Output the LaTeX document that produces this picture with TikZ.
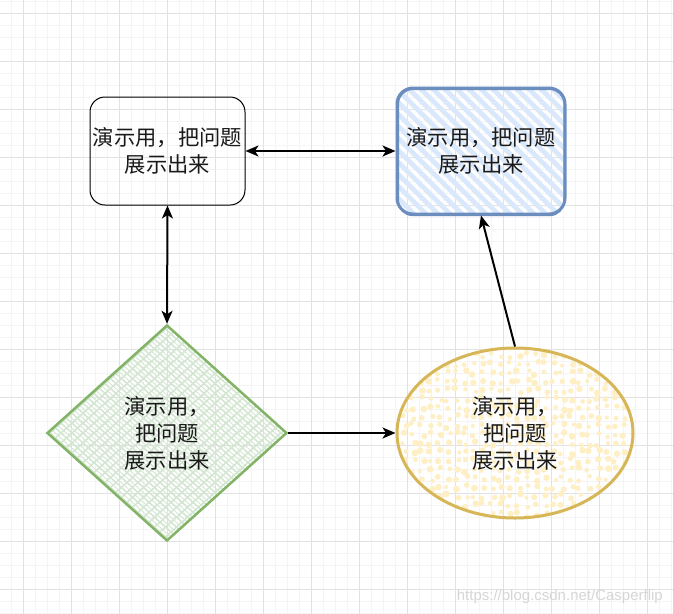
\documentclass[tikz,border=0pt]{standalone}
\usepackage{fontspec}
\setmainfont{Noto Sans CJK SC}
\newfontfamily\wmfont{Liberation Sans}
\usetikzlibrary{arrows.meta,shapes.geometric}
\definecolor{gridminor}{HTML}{F4F4F4}
\definecolor{gridmajor}{HTML}{E2E2E2}
\definecolor{bluestroke}{HTML}{6C8EBF}
\definecolor{bluefill}{HTML}{DAE8FC}
\definecolor{greenstroke}{HTML}{82B366}
\definecolor{greenfill}{HTML}{D2E6D0}
\definecolor{yellowstroke}{HTML}{D6B656}
\definecolor{yellowfill}{HTML}{FFEFC4}
\definecolor{txt}{HTML}{1A1A1A}
\begin{document}
\begin{tikzpicture}[x=1pt,y=-1pt,
  lbl/.style={font=\fontsize{21.3}{27}\selectfont, align=center, text=txt, inner sep=0pt},
  conn/.style={line width=2pt, -{Stealth[length=13pt,width=11pt,inset=3.5pt]}},
  biconn/.style={line width=2pt, {Stealth[length=13pt,width=11pt,inset=3.5pt]}-{Stealth[length=13pt,width=11pt,inset=3.5pt]}},
  minorline/.style={gridminor, line width=1pt},
  majorline/.style={gridmajor, line width=1pt},
]
\useasboundingbox (0,0) rectangle (673,614);
\fill[white] (0,0) rectangle (673,614);
% grid
\foreach \x in {11.5,23.5,...,673} \draw[minorline] (\x,0) -- (\x,614);
\foreach \y in {1.5,13.5,...,614} \draw[minorline] (0,\y) -- (673,\y);
\foreach \x in {23.5,71.5,...,673} \draw[majorline] (\x,0) -- (\x,614);
\foreach \y in {13.5,61.5,...,614} \draw[majorline] (0,\y) -- (673,\y);
% blue hatch
\begin{scope}
\clip[rounded corners=16pt] (397,88) rectangle (565,214);
\foreach \s in {200,212,...,580} \draw[bluefill, line width=4.8pt] (\s,60) -- ++(200,200);
\end{scope}
% green cross hatch
\begin{scope}
\clip (167,325) -- (287,433) -- (167,541) -- (47,433) -- cycle;
\foreach \x in {-60,-49,...,400} {
  \draw[greenfill, line width=1.5pt] (\x-150,433-135) -- (\x+150,433+135);
  \draw[greenfill, line width=1.5pt] (\x-150,433+135) -- (\x+150,433-135);
  \draw[greenfill, line width=0.8pt] (\x-147,433-137) -- (\x+153,433+133);
}
\end{scope}
% yellow dots
\begin{scope}
\clip (515,433) ellipse[x radius=118, y radius=85];
\pgfmathsetseed{42}
\foreach \i in {0,...,27} \foreach \j in {0,...,20} {
  \pgfmathsetmacro\px{393+\i*8.8+rnd*5}
  \pgfmathsetmacro\py{344+\j*8.8+rnd*5}
  \pgfmathsetmacro\rr{2.0+rnd*1.4}
  \fill[yellowfill] (\px,\py) circle[radius=\rr];
}
\end{scope}
% nodes
\node[draw=black, line width=1pt, rounded corners=15pt, minimum width=155pt, minimum height=108pt, lbl] (a) at (167.5,151) {演示用，把问题\\展示出来};
\draw[bluestroke, line width=1.2pt, rounded corners=14pt] (398.5,89.5) rectangle (564,215.5);
\node[draw=bluestroke, line width=3pt, rounded corners=16pt, minimum width=168pt, minimum height=126pt, lbl] (b) at (481,151) {演示用，把问题\\展示出来};
\node[diamond, draw=greenstroke, line width=2.5pt, minimum width=240pt, minimum height=216pt, lbl] (c) at (167,433) {演示用，\\把问题\\展示出来};
\node[ellipse, draw=yellowstroke, line width=3pt, minimum width=236pt, minimum height=170pt, lbl] (d) at (515,433) {演示用，\\把问题\\展示出来};
% connectors
\draw[biconn] (a.east) -- (b.west);
\draw[biconn] (a.south) -- (c.north);
\draw[conn] (c.east) -- (d.west);
\draw[conn] (d.north) -- (b.south);
% watermark
\node[font=\wmfont\fontsize{15}{15}\selectfont, text=black!16, anchor=east, inner sep=0pt] (wm) at (663,597) {https://blog.csdn.net/Casperflip};
\end{tikzpicture}
\end{document}
